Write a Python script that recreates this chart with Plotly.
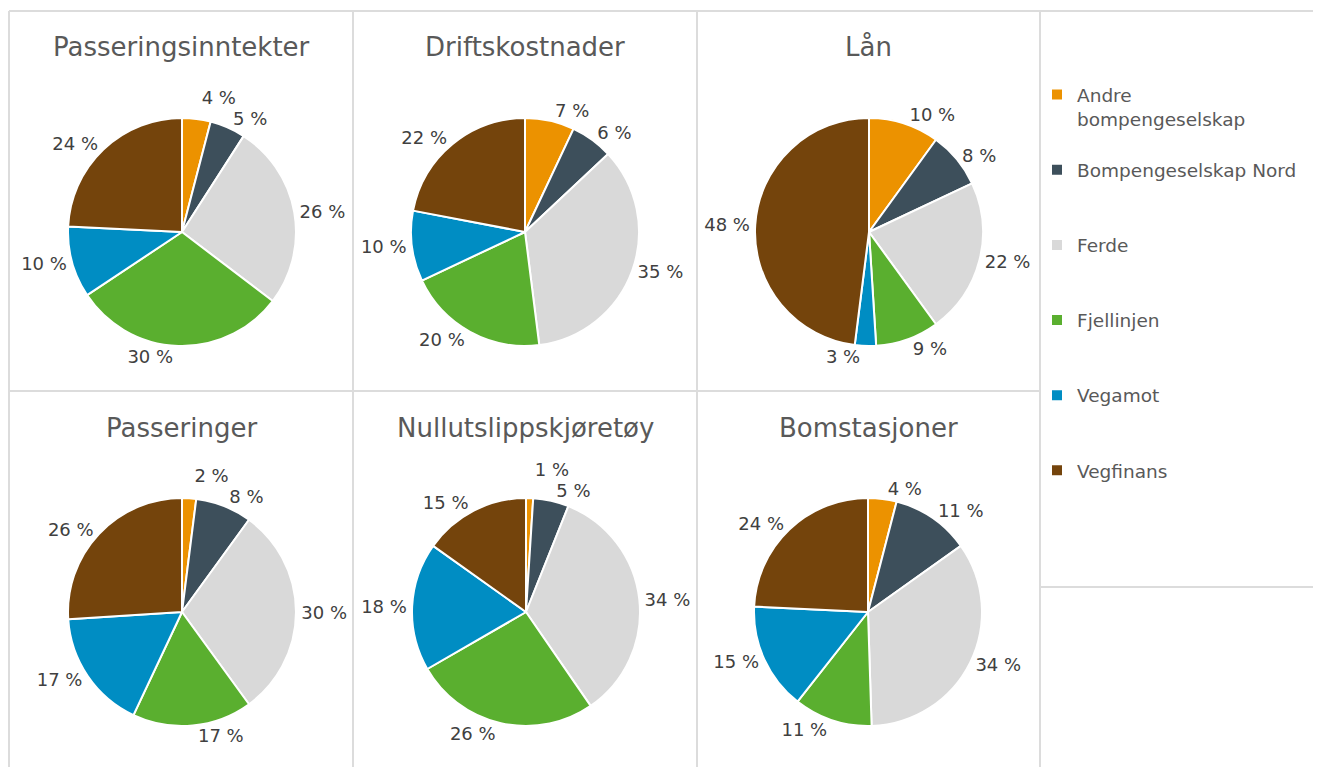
import plotly.graph_objects as go

# ---- data ----
categories = ["Andre bompengeselskap", "Bompengeselskap Nord", "Ferde",
              "Fjellinjen", "Vegamot", "Vegfinans"]
colors = ["#EC9200", "#3D4F5B", "#D9D9D9", "#5AAF2F", "#008DC3", "#74440C"]

titles = ["Passeringsinntekter", "Driftskostnader", "Lån",
          "Passeringer", "Nullutslippskjøretøy", "Bomstasjoner"]

passeringsinntekter = [4, 5, 26, 30, 10, 24]
driftskostnader = [7, 6, 35, 20, 10, 22]
laan = [10, 8, 22, 9, 3, 48]
passeringer = [2, 8, 30, 17, 17, 26]
nullutslipp = [1, 5, 34, 26, 18, 15]
bomstasjoner = [4, 11, 34, 11, 15, 24]

series = [passeringsinntekter, driftskostnader, laan,
          passeringer, nullutslipp, bomstasjoner]

# ---- layout helpers (page body has an 8px margin) ----
OFF = 8
W, H = 1321 - OFF, 767 - OFF
FONT = "DejaVu Sans"


def px(x):
    return (x - OFF) / W


def py(y):
    return 1 - (y - OFF) / H


pie_centers = [(182, 232), (525, 232), (869, 232),
               (182, 612), (526, 612), (868, 612)]
R = 114
cell_centers_x = [181, 525, 868]
title_y = [47, 428]


# legend labels: pad so the symbol sits on the first text line and items are spaced
def legend_label(name):
    if name == "Andre bompengeselskap":
        return "\u00a0<br>Andre<br>bompengeselskap"
    return "\u00a0<br>" + name + "<br>\u00a0"


labels = [legend_label(c) for c in categories]

fig = go.Figure()
for i, (vals, (cx, cy)) in enumerate(zip(series, pie_centers)):
    fig.add_trace(go.Pie(
        labels=labels,
        values=vals,
        sort=False,
        direction="clockwise",
        rotation=0,
        marker=dict(colors=colors, line=dict(color="white", width=2)),
        textposition="outside",
        texttemplate='<span style="color:#404040">%{value} %</span>',
        textfont=dict(family=FONT, size=18, color="white"),
        hovertemplate="%{value} %<extra></extra>",
        domain=dict(x=[px(cx - R), px(cx + R)],
                    y=[py(cy + R), py(cy - R)]),
        showlegend=(i == 0),
    ))

annotations = []
for i, t in enumerate(titles):
    annotations.append(dict(
        text=t, x=px(cell_centers_x[i % 3]), y=py(title_y[i // 3]),
        xref="paper", yref="paper", xanchor="center", yanchor="middle",
        showarrow=False, font=dict(family=FONT, size=26, color="#595959"),
    ))

grid = "#DCDCDC"
lines = [
    (9, 11, 1330, 11),
    (9, 391, 1040, 391),
    (1040, 587, 1330, 587),
    (9, 11, 9, 780),
    (353, 11, 353, 780),
    (697, 11, 697, 780),
    (1040, 11, 1040, 780),
]
shapes = [dict(type="line", xref="paper", yref="paper",
               x0=px(x0), y0=py(y0), x1=px(x1), y1=py(y1),
               line=dict(color=grid, width=2)) for x0, y0, x1, y1 in lines]

fig.update_layout(
    width=W, height=H,
    margin=dict(l=0, r=0, t=0, b=0),
    paper_bgcolor="white", plot_bgcolor="white",
    annotations=annotations,
    shapes=shapes,
    legend=dict(x=px(1037), y=py(52), xanchor="left", yanchor="top",
                font=dict(family=FONT, size=18.5, color="#595959"),
                bgcolor="rgba(0,0,0,0)"),
    font=dict(family=FONT),
)

fig.write_html("out.html")
